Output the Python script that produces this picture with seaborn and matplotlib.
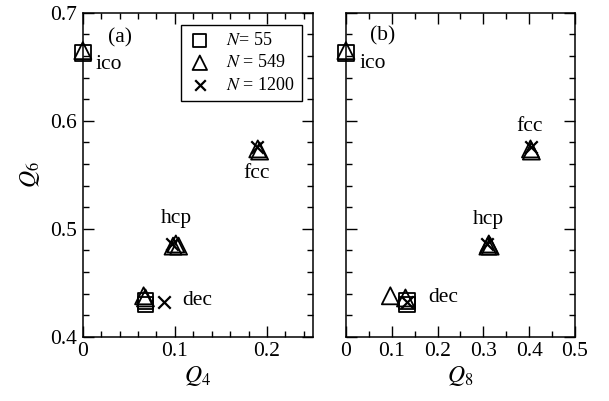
import numpy as np
import pandas as pd
import matplotlib
matplotlib.use("Agg")
import matplotlib.pyplot as plt
import seaborn as sns
from matplotlib.ticker import MultipleLocator

sns.set_theme(style="ticks")
plt.rcParams['font.family'] = ['Liberation Serif', 'DejaVu Serif']
plt.rcParams['mathtext.fontset'] = 'stix'
plt.rcParams['axes.labelcolor'] = 'black'
plt.rcParams['text.color'] = 'black'

# ---- data ----
# N = 55 (squares)
n55_struct = ["ico", "dec", "dec"]
n55_q4 = [0.0, 0.068, 0.068]
n55_q6 = [0.663, 0.430, 0.433]
n55_q8 = [0.0, 0.133, 0.133]

# N = 549 (triangles)
n549_struct = ["ico", "fcc", "fcc", "hcp", "hcp", "hcp", "dec", "dec"]
n549_q4 = [0.0, 0.190, 0.192, 0.098, 0.101, 0.104, 0.066, 0.068]
n549_q6 = [0.665, 0.574, 0.572, 0.484, 0.486, 0.484, 0.438, 0.436]
n549_q8 = [0.0, 0.403, 0.405, 0.310, 0.312, 0.315, 0.097, 0.130]

# N = 1200 (crosses)
n1200_struct = ["fcc", "hcp", "dec"]
n1200_q4 = [0.189, 0.097, 0.088]
n1200_q6 = [0.576, 0.486, 0.432]
n1200_q8 = [0.404, 0.309, 0.133]

labels_N = ["$N$= 55", "$N$ = 549", "$N$ = 1200"]

frames = []
for lab, st, q4, q6, q8 in [(labels_N[0], n55_struct, n55_q4, n55_q6, n55_q8),
                            (labels_N[1], n549_struct, n549_q4, n549_q6, n549_q8),
                            (labels_N[2], n1200_struct, n1200_q4, n1200_q6, n1200_q8)]:
    frames.append(pd.DataFrame({"N": lab, "struct": st, "Q4": q4, "Q6": q6, "Q8": q8}))
df = pd.concat(frames, ignore_index=True)

markers = {labels_N[0]: "s", labels_N[1]: "^", labels_N[2]: "x"}
sizes = {labels_N[0]: 125, labels_N[1]: 150, labels_N[2]: 80}

fig = plt.figure(figsize=(6.09, 4.01), dpi=100)
axa = fig.add_axes([0.136, 0.160, 0.378, 0.808])
axb = fig.add_axes([0.568, 0.160, 0.376, 0.808])

for ax, xcol in [(axa, "Q4"), (axb, "Q8")]:
    for lab in labels_N:
        sub = df[df["N"] == lab]
        if markers[lab] == "x":
            sns.scatterplot(data=sub, x=xcol, y="Q6", marker="x", s=sizes[lab],
                            color="black", linewidth=1.6, ax=ax, label=lab,
                            clip_on=False, zorder=3)
        else:
            sns.scatterplot(data=sub, x=xcol, y="Q6", marker=markers[lab], s=sizes[lab],
                            facecolors="none", edgecolors="black", linewidth=1.3,
                            ax=ax, label=lab, clip_on=False, zorder=3)
    ax.set_ylim(0.4, 0.7)
    ax.yaxis.set_major_locator(MultipleLocator(0.1))
    ax.yaxis.set_minor_locator(MultipleLocator(0.02))
    ax.tick_params(which="both", direction="in", top=True, right=True,
                   labelsize=15.5, width=1.0, colors="black", pad=4)
    ax.tick_params(which="major", length=8)
    ax.tick_params(which="minor", length=4.5)
    for s in ax.spines.values():
        s.set_linewidth(1.1)
        s.set_color("black")

axa.set_xlim(0, 0.25)
axa.set_xticks([0, 0.1, 0.2])
axa.set_xticklabels(["0", "0.1", "0.2"])
axa.xaxis.set_minor_locator(MultipleLocator(0.02))
axa.set_yticks([0.4, 0.5, 0.6, 0.7])
axa.set_yticklabels(["0.4", "0.5", "0.6", "0.7"])
axa.set_xlabel("$Q_4$", fontsize=17, labelpad=2)
axa.set_ylabel("$Q_6$", fontsize=17, labelpad=6)

axb.set_xlim(0, 0.5)
axb.set_xticks([0, 0.1, 0.2, 0.3, 0.4, 0.5])
axb.set_xticklabels(["0", "0.1", "0.2", "0.3", "0.4", "0.5"])
axb.xaxis.set_minor_locator(MultipleLocator(0.05))
axb.set_yticklabels([])
axb.set_xlabel("$Q_8$", fontsize=17, labelpad=2)
axb.set_ylabel("")

leg = axa.legend(loc="upper right", bbox_to_anchor=(0.952, 0.963), borderaxespad=0,
                 fontsize=13, frameon=True, fancybox=False, edgecolor="black",
                 framealpha=1, handletextpad=0.8, borderpad=0.4, labelspacing=0.3,
                 handlelength=1.3, markerscale=0.85)
leg.get_frame().set_linewidth(1.0)
if axb.get_legend() is not None:
    axb.get_legend().remove()

# annotations
fs = 15.5
axa.text(0.040, 0.677, "(a)", fontsize=fs, ha="center", va="center")
axa.text(0.028, 0.652, "ico", fontsize=fs, ha="center", va="center")
axa.text(0.189, 0.551, "fcc", fontsize=fs, ha="center", va="center")
axa.text(0.102, 0.510, "hcp", fontsize=fs, ha="center", va="center")
axa.text(0.124, 0.434, "dec", fontsize=fs, ha="center", va="center")

axb.text(0.080, 0.679, "(b)", fontsize=fs, ha="center", va="center")
axb.text(0.058, 0.653, "ico", fontsize=fs, ha="center", va="center")
axb.text(0.402, 0.595, "fcc", fontsize=fs, ha="center", va="center")
axb.text(0.312, 0.509, "hcp", fontsize=fs, ha="center", va="center")
axb.text(0.212, 0.436, "dec", fontsize=fs, ha="center", va="center")

fig.savefig("out.png", dpi=100)
